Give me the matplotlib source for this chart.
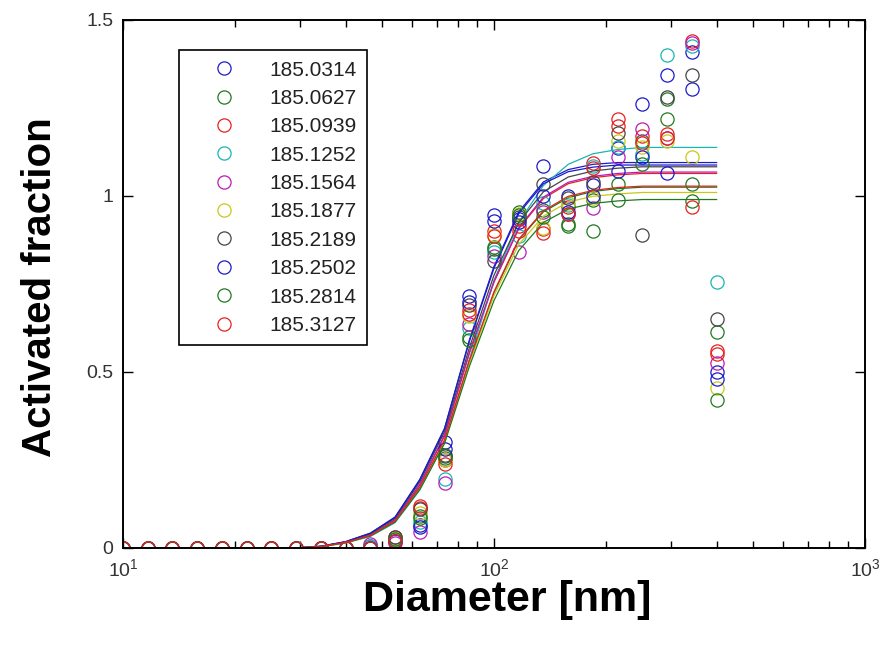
import matplotlib
matplotlib.use("Agg")
import matplotlib.pyplot as plt
import matplotlib.ticker as mticker

# diameters of the size channels [nm]
diameters = [10.0, 11.66, 13.59, 15.85, 18.48, 21.54, 25.12, 29.29, 34.15, 39.81,
             46.42, 54.12, 63.10, 73.56, 85.77, 100.0, 116.6, 135.9, 158.5, 184.8,
             215.4, 251.2, 292.9, 341.5, 398.1]

labels = ["185.0314", "185.0627", "185.0939", "185.1252", "185.1564",
          "185.1877", "185.2189", "185.2502", "185.2814", "185.3127"]

colors = ["#1c1cc8", "#1f7a1f", "#e82020", "#19b5b5", "#b81cb8",
          "#c8c81a", "#454545", "#1c1cc8", "#1f7a1f", "#e82020"]

z = [0.0] * 9  # first nine channels are empty for every scan

# measured activated fraction per scan
af_1 = z + [0.0, 0.005, 0.02, 0.065, 0.30, 0.715, 0.945, 0.935, 1.085, 1.0, 1.03, 1.135, 1.26, 1.345, 1.41, 0.50]
af_2 = z + [0.0, 0.0, 0.025, 0.09, 0.265, 0.60, 0.855, 0.955, 0.96, 0.92, 0.99, 1.035, 1.155, 1.275, 1.035, 0.615]
af_3 = z + [0.0, 0.0, 0.03, 0.115, 0.25, 0.675, 0.90, 0.915, 0.905, 0.97, 1.095, 1.22, 1.17, 1.175, 1.44, 0.56]
af_4 = z + [0.0, 0.005, 0.02, 0.075, 0.195, 0.625, 0.84, 0.885, 0.98, 0.975, 1.085, 1.14, 1.12, 1.40, 1.425, 0.755]
af_5 = z + [0.0, 0.01, 0.015, 0.045, 0.185, 0.635, 0.83, 0.84, 0.955, 0.95, 0.965, 1.11, 1.19, 1.165, 1.435, 0.525]
af_6 = z + [0.0, 0.0, 0.025, 0.10, 0.25, 0.66, 0.89, 0.95, 0.91, 0.98, 0.995, 1.155, 1.14, 1.155, 1.11, 0.455]
af_7 = z + [0.0, 0.0, 0.03, 0.11, 0.26, 0.69, 0.815, 0.94, 1.035, 0.995, 1.04, 1.18, 0.89, 1.28, 1.345, 0.65]
af_8 = z + [0.0, 0.0, 0.02, 0.06, 0.28, 0.70, 0.93, 0.925, 1.0, 0.955, 1.0, 1.07, 1.11, 1.065, 1.305, 0.48]
af_9 = z + [0.0, 0.0, 0.025, 0.085, 0.255, 0.59, 0.85, 0.945, 0.94, 0.915, 0.90, 0.99, 1.09, 1.22, 0.985, 0.42]
af_10 = z + [0.0, 0.0, 0.02, 0.12, 0.24, 0.665, 0.885, 0.90, 0.895, 0.95, 1.08, 1.20, 1.15, 1.165, 0.97, 0.55]

z8 = [0.0] * 8

# fitted curves, read at the same diameters
fit_1 = z8 + [0.005, 0.018, 0.042, 0.088, 0.195, 0.34, 0.59, 0.80, 0.955, 1.04, 1.075, 1.09, 1.095, 1.095, 1.095, 1.095, 1.095]
fit_2 = z8 + [0.004, 0.016, 0.036, 0.077, 0.172, 0.305, 0.53, 0.725, 0.875, 0.955, 0.995, 1.013, 1.021, 1.025, 1.025, 1.025, 1.025]
fit_3 = z8 + [0.004, 0.016, 0.037, 0.08, 0.18, 0.318, 0.552, 0.755, 0.907, 0.993, 1.035, 1.052, 1.06, 1.064, 1.064, 1.064, 1.064]
fit_4 = z8 + [0.003, 0.014, 0.033, 0.072, 0.165, 0.30, 0.535, 0.76, 0.925, 1.03, 1.09, 1.12, 1.132, 1.138, 1.138, 1.138, 1.138]
fit_5 = z8 + [0.004, 0.016, 0.037, 0.08, 0.18, 0.32, 0.555, 0.758, 0.91, 0.997, 1.039, 1.056, 1.064, 1.068, 1.068, 1.068, 1.068]
fit_6 = z8 + [0.004, 0.015, 0.035, 0.076, 0.17, 0.303, 0.525, 0.717, 0.862, 0.943, 0.983, 0.999, 1.006, 1.01, 1.01, 1.01, 1.01]
fit_7 = z8 + [0.005, 0.017, 0.04, 0.084, 0.188, 0.33, 0.568, 0.775, 0.925, 1.012, 1.054, 1.071, 1.079, 1.083, 1.083, 1.083, 1.083]
fit_8 = z8 + [0.005, 0.018, 0.042, 0.087, 0.193, 0.338, 0.586, 0.795, 0.95, 1.035, 1.069, 1.082, 1.088, 1.088, 1.088, 1.088, 1.088]
fit_9 = z8 + [0.004, 0.015, 0.034, 0.074, 0.166, 0.297, 0.515, 0.703, 0.845, 0.925, 0.963, 0.979, 0.986, 0.99, 0.99, 0.99, 0.99]
fit_10 = z8 + [0.004, 0.016, 0.036, 0.077, 0.173, 0.307, 0.532, 0.728, 0.877, 0.958, 0.999, 1.016, 1.024, 1.028, 1.028, 1.028, 1.028]

measured = [af_1, af_2, af_3, af_4, af_5, af_6, af_7, af_8, af_9, af_10]
fits = [fit_1, fit_2, fit_3, fit_4, fit_5, fit_6, fit_7, fit_8, fit_9, fit_10]


def activation_plot(ax):
    handles = []
    for af, fit, col, lab in zip(measured, fits, colors, labels):
        h, = ax.plot(diameters, af, linestyle="none", marker="o", markersize=9.5,
                     markerfacecolor="none", markeredgecolor=col, markeredgewidth=0.9,
                     label=lab)
        ax.plot(diameters, fit, color=col, linewidth=0.9)
        handles.append(h)

    ax.set_xscale("log")
    ax.set_xlim(10, 1000)
    ax.set_ylim(0, 1.5)
    ax.set_yticks([0, 0.5, 1, 1.5])
    ax.yaxis.set_major_formatter(mticker.FormatStrFormatter("%g"))
    ax.xaxis.set_minor_formatter(mticker.NullFormatter())
    ax.tick_params(which="both", direction="in", top=True, right=True,
                   labelsize=14, labelcolor="#333333", pad=7)
    ax.tick_params(which="major", length=7, width=1)
    ax.tick_params(which="minor", length=5, width=1)
    for sp in ax.spines.values():
        sp.set_linewidth(1.4)

    leg = ax.legend(handles=handles, loc="upper left", bbox_to_anchor=(0.075, 0.943),
                    borderaxespad=0, fontsize=15, labelspacing=0.45, handlelength=3.4,
                    handletextpad=0.45, borderpad=0.5, fancybox=False, framealpha=1)
    leg.get_frame().set_edgecolor("black")
    leg.get_frame().set_linewidth(1.2)
    for t in leg.get_texts():
        t.set_color("#222222")


def main():
    plt.rcParams["font.family"] = ["Liberation Sans", "DejaVu Sans"]
    fig = plt.figure(figsize=(8.89, 6.46), dpi=100)
    ax = fig.add_axes([123 / 889, 98 / 646, 742 / 889, 528 / 646])
    activation_plot(ax)

    fig.text(507 / 889, 46 / 646, "Diameter [nm]", ha="center", va="center",
             fontsize=31, fontweight="bold")
    fig.text(40 / 889, 359 / 646, "Activated fraction", ha="center", va="center",
             rotation=90, fontsize=29, fontweight="bold")

    fig.savefig("out.png", dpi=100)


if __name__ == "__main__":
    main()
